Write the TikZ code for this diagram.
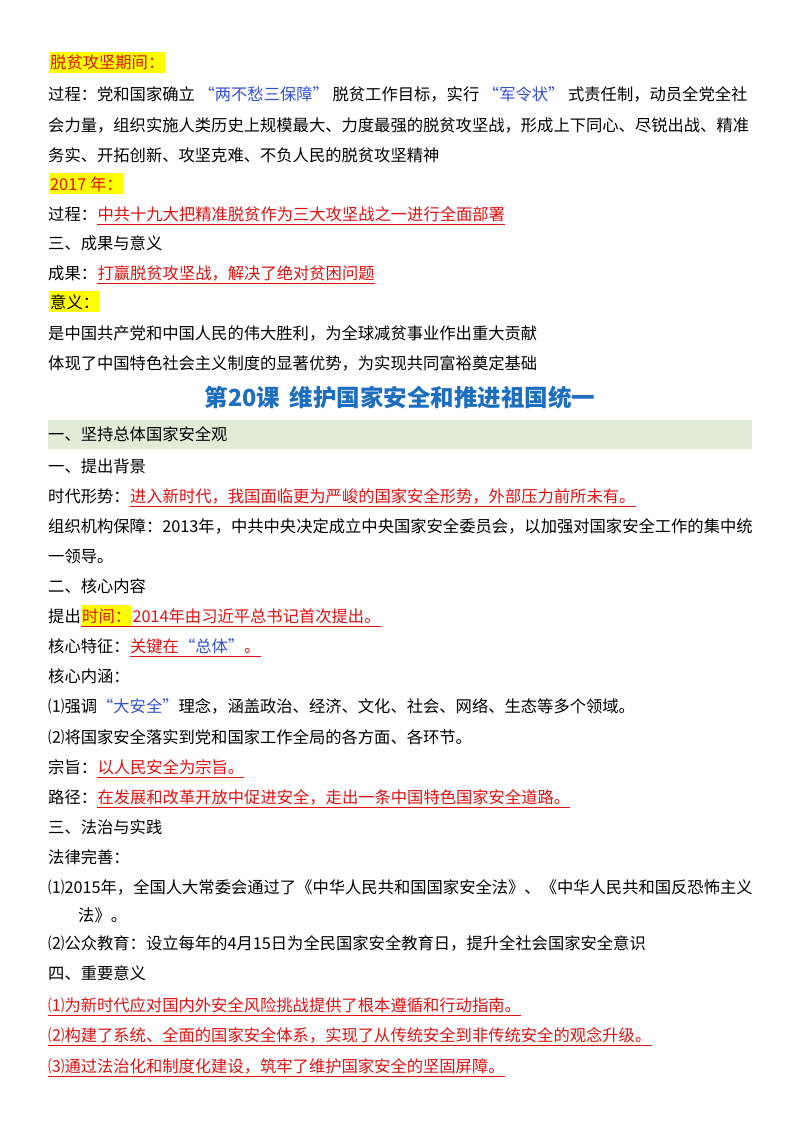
\documentclass[tikz,border=0pt]{standalone}
\usepackage{fontspec}
\setmainfont{Noto Sans CJK SC}
\definecolor{rd}{HTML}{E01010}
\definecolor{qb}{HTML}{3050D0}
\definecolor{tb}{HTML}{1E6EC0}
\definecolor{band}{HTML}{E3EAD8}
\definecolor{hl}{HTML}{FFFF00}
\tikzset{
 t/.style={anchor=base west,inner sep=0pt,font=\fontsize{16.3}{18}\selectfont},
 r/.style={t,text=rd},
 h/.style={r,fill=hl,inner ysep=3pt,inner xsep=1pt},
 ul/.style={rd,line width=0.8pt}
}
\newcommand{\U}[1]{\draw[ul] ([yshift=-4pt]#1.base west) -- ([yshift=-4pt]#1.base east);}
\begin{document}
\begin{tikzpicture}[x=1pt,y=-1pt]
\useasboundingbox (0,0) rectangle (800,1132);
\node[h] (a1) at (49,69) {脱贫攻坚期间：};
\node[t] (a2) at (48,100) {过程：党和国家确立 {\color{qb}“两不愁三保障”} 脱贫工作目标，实行 {\color{qb}“军令状”} 式责任制，动员全党全社};
\node[t] (a3) at (48,131) {会力量，组织实施人类历史上规模最大、力度最强的脱贫攻坚战，形成上下同心、尽锐出战、精准};
\node[t] (a4) at (48,161) {务实、开拓创新、攻坚克难、不负人民的脱贫攻坚精神};
\node[h] (a5) at (49,190) {2017 年：};
\node[t] (a6) at (48,220) {过程：};
\node[r] (a7) at (a6.base east) {中共十九大把精准脱贫作为三大攻坚战之一进行全面部署}; \U{a7}
\node[t] (a8) at (48,249) {三、成果与意义};
\node[t] (a9) at (48,279) {成果：};
\node[r] (a10) at (a9.base east) {打赢脱贫攻坚战，解决了绝对贫困问题}; \U{a10}
\node[h,text=black] (a11) at (49,308) {意义：};
\node[t] (a12) at (48,339) {是中国共产党和中国人民的伟大胜利，为全球减贫事业作出重大贡献};
\node[t] (a13) at (48,369) {体现了中国特色社会主义制度的显著优势，为实现共同富裕奠定基础};
\node[anchor=base,inner sep=0pt,text=tb,font=\fontsize{23.5}{26}\bfseries\selectfont] (ti) at (400,406) {第20课\, 维护国家安全和推进祖国统一};
\fill[band] (48,420) rectangle (752,449);
\node[t] (b1) at (48,440) {一、坚持总体国家安全观};
\node[t] (b2) at (48,472) {一、提出背景};
\node[t] (b3) at (48,502) {时代形势：};
\node[r] (b4) at (b3.base east) {进入新时代，我国面临更为严峻的国家安全形势，外部压力前所未有。}; \U{b4}
\node[t] (b5) at (48,532) {组织机构保障：2013年，中共中央决定成立中央国家安全委员会，以加强对国家安全工作的集中统};
\node[t] (b6) at (48,562) {一领导。};
\node[t] (b7) at (48,592) {二、核心内容};
\node[t] (b8) at (48,622) {提出};
\node[h] (b9) at (b8.base east) {时间：};
\node[r] (b10) at (b9.base east) {2014年由习近平总书记首次提出。};
\draw[ul] ([yshift=-4pt]b9.base west) -- ([yshift=-4pt]b10.base east);
\node[t] (b11) at (48,652) {核心特征：};
\node[r] (b12) at (b11.base east) {关键在{\color{qb}“总体”}。}; \U{b12}
\node[t] (b13) at (48,682) {核心内涵：};
\node[t] (b14) at (48,712) {⑴强调{\color{qb}“大安全”}理念，涵盖政治、经济、文化、社会、网络、生态等多个领域。};
\node[t] (b15) at (48,743) {⑵将国家安全落实到党和国家工作全局的各方面、各环节。};
\node[t] (b16) at (48,773) {宗旨：};
\node[r] (b17) at (b16.base east) {以人民安全为宗旨。}; \U{b17}
\node[t] (b18) at (48,803) {路径：};
\node[r] (b19) at (b18.base east) {在发展和改革开放中促进安全，走出一条中国特色国家安全道路。}; \U{b19}
\node[t] (b20) at (48,833) {三、法治与实践};
\node[t] (b21) at (48,863) {法律完善：};
\node[t] (b22) at (48,893) {⑴2015年，全国人大常委会通过了《中华人民共和国国家安全法》、《中华人民共和国反恐怖主义};
\node[t] (b23) at (78,921) {法》。};
\node[t] (b24) at (48,949) {⑵公众教育：设立每年的4月15日为全民国家安全教育日，提升全社会国家安全意识};
\node[t] (b25) at (48,979) {四、重要意义};
\node[r] (b26) at (48,1011) {⑴为新时代应对国内外安全风险挑战提供了根本遵循和行动指南。}; \U{b26}
\node[r] (b27) at (48,1041) {⑵构建了系统、全面的国家安全体系，实现了从传统安全到非传统安全的观念升级。}; \U{b27}
\node[r] (b28) at (48,1072) {⑶通过法治化和制度化建设，筑牢了维护国家安全的坚固屏障。}; \U{b28}
\end{tikzpicture}
\end{document}
